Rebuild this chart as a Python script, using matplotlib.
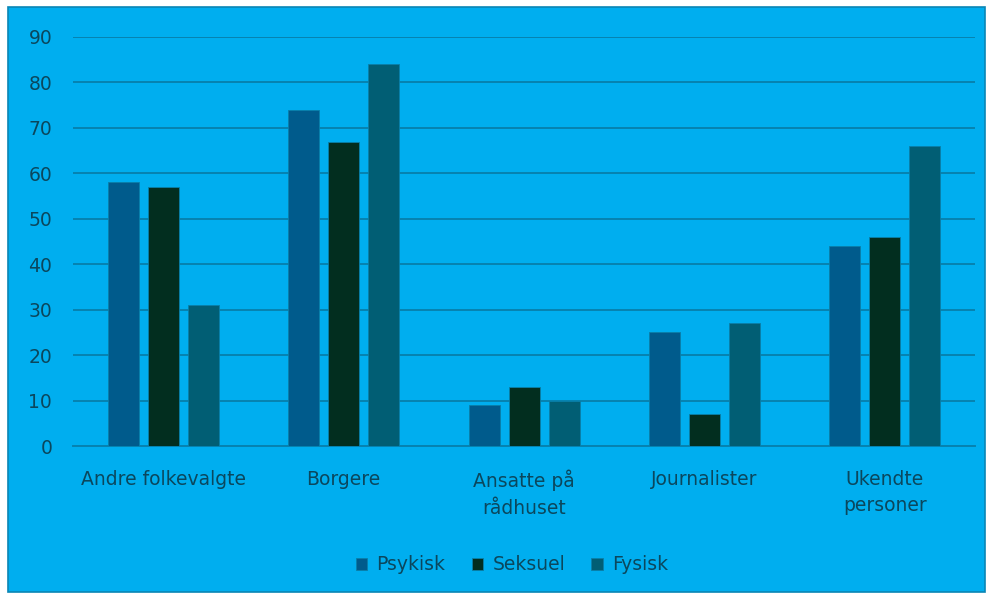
import matplotlib
matplotlib.use("Agg")
import matplotlib.pyplot as plt
from matplotlib.patches import Rectangle
import numpy as np

categories = ["Andre folkevalgte", "Borgere", "Ansatte på\nrådhuset", "Journalister", "Ukendte\npersoner"]
series_names = ["Psykisk", "Seksuel", "Fysisk"]
psykisk = [58, 74, 9, 25, 44]
seksuel = [57, 67, 13, 7, 46]
fysisk = [31, 84, 10, 27, 66]
yticks = [0, 10, 20, 30, 40, 50, 60, 70, 80, 90]

bg = "#00AEEF"
colors = ["#005B8C", "#022E1F", "#015E74"]
text_color = "#0B475D"
grid_color = "#0782B0"

plt.rcParams['font.family'] = ['DejaVu Sans']

fig = plt.figure(figsize=(9.9, 5.98), dpi=100, facecolor="white")
fig.patches.append(Rectangle((8/990, 1-592/598), (985-8)/990, (592-7)/598,
                             transform=fig.transFigure, facecolor=bg,
                             edgecolor="#0A86B5", linewidth=1.2, zorder=-5))

ax = fig.add_axes([73/990, 1-446/598, (975-73)/990, (446-37)/598])
ax.set_zorder(2)
ax.set_facecolor("none")
x = np.arange(len(categories))
w = 31/180.4
step = 40/180.4
for i, (vals, name) in enumerate(zip([psykisk, seksuel, fysisk], series_names)):
    ax.bar(x + (i-1)*step, vals, width=w, color=colors[i], label=name,
           edgecolor="#0A7FA8", linewidth=0.6, zorder=3)

ax.set_xlim(-0.5, len(categories)-0.5)
ax.set_ylim(0, 90)
ax.set_yticks(yticks)
ax.yaxis.grid(True, color=grid_color, linewidth=1.4, zorder=0)
ax.set_axisbelow(True)
for s in ["left", "right", "top"]:
    ax.spines[s].set_visible(False)
ax.spines["bottom"].set_color(grid_color)
ax.spines["bottom"].set_linewidth(1.4)
ax.tick_params(axis="both", length=0, colors=text_color, labelsize=13.5)
ax.tick_params(axis="y", pad=15)
ax.tick_params(axis="x", pad=17)
ax.set_xticks(x)
ax.set_xticklabels(categories, linespacing=1.5)

leg = fig.legend(loc="center", bbox_to_anchor=(512/990, 1-565/598), ncol=3,
                 frameon=False, fontsize=13.5, handlelength=0.6, handleheight=0.6,
                 columnspacing=1.4, handletextpad=0.5, labelcolor=text_color)
leg.set_zorder(3)

fig.savefig("out.png", dpi=100, facecolor="white")
